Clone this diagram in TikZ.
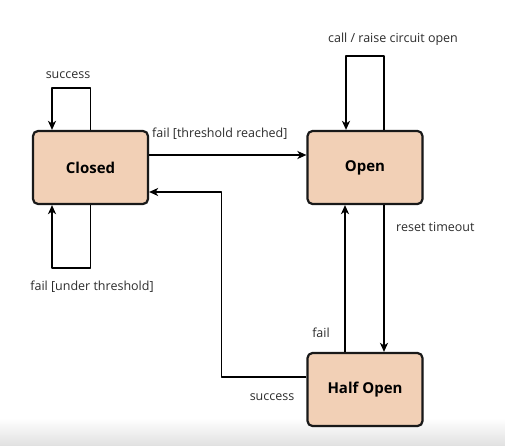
\documentclass[tikz,border=0pt]{standalone}
\usepackage{fontspec}
\setmainfont{Open Sans}
\usetikzlibrary{arrows.meta,shadows}
\definecolor{statefill}{RGB}{242,208,182}
\definecolor{labelgray}{RGB}{45,45,45}
\begin{document}
\begin{tikzpicture}[x=1pt,y=-1pt,line join=round,
	>={Stealth[length=9pt,width=8pt,inset=2.5pt]},
	state/.style={draw=black!90,line width=2.2pt,fill=statefill,rounded corners=5pt,
		minimum width=115pt,minimum height=73pt,font=\bfseries\fontsize{15}{17}\selectfont,
		drop shadow={shadow xshift=1pt,shadow yshift=-1pt,opacity=0.25}},
	edge/.style={line width=1.8pt,->},
	lbl/.style={text=labelgray,font=\fontsize{12.5}{14}\selectfont,inner sep=0pt}]
	\useasboundingbox (0,0) rectangle (505,446);
	\fill[white] (0,0) rectangle (505,446);
	\shade[top color=white,bottom color=black!12] (0,418) rectangle (505,446);
	% states
	\node[state] (closed) at (90.5,167.5) {Closed};
	\node[state] (open) at (365,167.5) {Open};
	\node[state] (half) at (365,389.5) {Half Open};
	% transitions
	\draw[edge] (closed.north) -- ++(0,-42) -| ([xshift=-38.5pt]closed.north);
	\draw[edge] (closed.south) -- ++(0,63) -| ([xshift=-38.5pt]closed.south);
	\draw[edge] ([yshift=12.5pt]closed.east) -- ([yshift=12.5pt]open.west);
	\draw[edge] ([xshift=19pt]open.north) -- ++(0,-74) -| ([xshift=-19pt]open.north);
	\draw[edge] ([xshift=19pt]open.south) -- ([xshift=19pt]half.north);
	\draw[edge] ([xshift=-20pt]half.north) -- ([xshift=-20pt]open.south);
	\draw[edge] ([yshift=12.5pt]half.west) -- ++(-85,0) |- ([yshift=-24.5pt]closed.east);
	% labels
	\node[lbl] (l1) at (68,75) {success};
	\node[lbl] (l2) at (92,287) {fail [under threshold]};
	\node[lbl,anchor=west] (l3) at (152,134) {fail [threshold reached]};
	\node[lbl] (l4) at (393,39) {call / raise circuit open};
	\node[lbl,anchor=west] (l5) at (396,227) {reset timeout};
	\node[lbl] (l6) at (321,333) {fail};
	\node[lbl] (l7) at (272,397) {success};
\end{tikzpicture}
\end{document}
